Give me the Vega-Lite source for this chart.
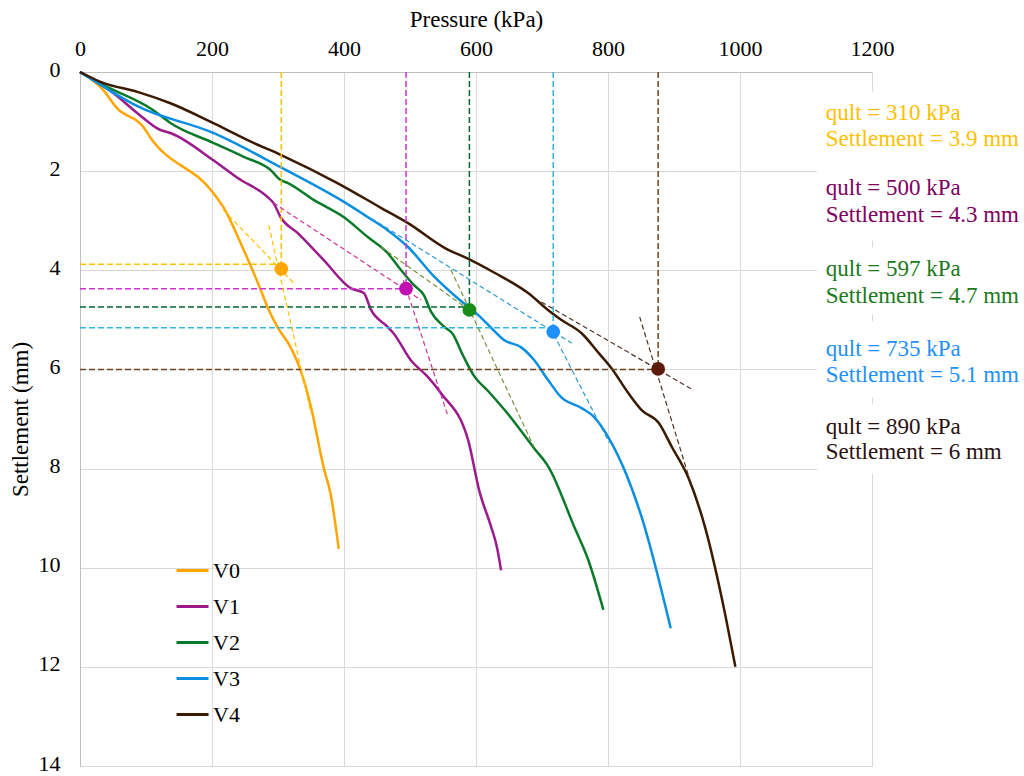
{
  "$schema": "https://vega.github.io/schema/vega-lite/v6.json",
  "autosize": "none",
  "width": 792,
  "height": 694,
  "padding": {"left": 80, "top": 72, "right": 152, "bottom": 10},
  "background": "white",
  "config": {
    "font": "Liberation Serif",
    "view": {"stroke": null},
    "axis": {
      "grid": true, "gridColor": "#D9D9D9", "gridWidth": 1,
      "domain": true, "domainColor": "#BFBFBF", "ticks": false,
      "labelFont": "Liberation Serif", "labelFontSize": 22, "labelColor": "#000000",
      "titleFont": "Liberation Serif", "titleFontSize": 23, "titleFontWeight": "normal", "titleColor": "#000000",
      "labelFlush": false
    },
    "legend": {
      "labelFont": "Liberation Serif", "labelFontSize": 22, "labelColor": "#000000",
      "symbolType": "stroke", "symbolSize": 1024, "symbolStrokeWidth": 3,
      "padding": 0, "rowPadding": 7, "labelOffset": 3
    }
  },
  "datasets": {
    "curves": [
      {"series": "V0", "p": 0, "s": 0}, {"series": "V0", "p": 35, "s": 0.36}, {"series": "V0", "p": 56, "s": 0.73}, {"series": "V0", "p": 96, "s": 1.11}, {"series": "V0", "p": 106, "s": 1.31}, {"series": "V0", "p": 202, "s": 2.44}, {"series": "V0", "p": 217, "s": 2.72}, {"series": "V0", "p": 248, "s": 3.59}, {"series": "V0", "p": 274, "s": 4.40}, {"series": "V0", "p": 284, "s": 4.74}, {"series": "V0", "p": 299, "s": 5.14}, {"series": "V0", "p": 319, "s": 5.55}, {"series": "V0", "p": 334, "s": 6.01}, {"series": "V0", "p": 350, "s": 6.76}, {"series": "V0", "p": 369, "s": 7.97}, {"series": "V0", "p": 380, "s": 8.53}, {"series": "V0", "p": 392, "s": 9.62},
      {"series": "V1", "p": 0, "s": 0}, {"series": "V1", "p": 50, "s": 0.42}, {"series": "V1", "p": 87, "s": 0.83}, {"series": "V1", "p": 122, "s": 1.17}, {"series": "V1", "p": 137, "s": 1.23}, {"series": "V1", "p": 202, "s": 1.78}, {"series": "V1", "p": 239, "s": 2.14}, {"series": "V1", "p": 284, "s": 2.52}, {"series": "V1", "p": 293, "s": 2.64}, {"series": "V1", "p": 304, "s": 2.93}, {"series": "V1", "p": 330, "s": 3.25}, {"series": "V1", "p": 369, "s": 3.79}, {"series": "V1", "p": 410, "s": 4.36}, {"series": "V1", "p": 430, "s": 4.46}, {"series": "V1", "p": 441, "s": 4.80}, {"series": "V1", "p": 466, "s": 5.14}, {"series": "V1", "p": 475, "s": 5.27}, {"series": "V1", "p": 501, "s": 5.81}, {"series": "V1", "p": 527, "s": 6.15}, {"series": "V1", "p": 547, "s": 6.48}, {"series": "V1", "p": 588, "s": 7.42}, {"series": "V1", "p": 605, "s": 8.45}, {"series": "V1", "p": 623, "s": 9.18}, {"series": "V1", "p": 632, "s": 9.6}, {"series": "V1", "p": 638, "s": 10.05},
      {"series": "V2", "p": 0, "s": 0}, {"series": "V2", "p": 35, "s": 0.26}, {"series": "V2", "p": 111, "s": 0.77}, {"series": "V2", "p": 137, "s": 1.03}, {"series": "V2", "p": 202, "s": 1.43}, {"series": "V2", "p": 248, "s": 1.71}, {"series": "V2", "p": 289, "s": 1.98}, {"series": "V2", "p": 304, "s": 2.18}, {"series": "V2", "p": 315, "s": 2.24}, {"series": "V2", "p": 354, "s": 2.58}, {"series": "V2", "p": 400, "s": 2.93}, {"series": "V2", "p": 436, "s": 3.33}, {"series": "V2", "p": 466, "s": 3.65}, {"series": "V2", "p": 486, "s": 3.99}, {"series": "V2", "p": 506, "s": 4.30}, {"series": "V2", "p": 521, "s": 4.50}, {"series": "V2", "p": 532, "s": 4.84}, {"series": "V2", "p": 552, "s": 5.14}, {"series": "V2", "p": 565, "s": 5.29}, {"series": "V2", "p": 580, "s": 5.71}, {"series": "V2", "p": 596, "s": 6.11}, {"series": "V2", "p": 620, "s": 6.46}, {"series": "V2", "p": 646, "s": 6.86}, {"series": "V2", "p": 688, "s": 7.59}, {"series": "V2", "p": 710, "s": 7.97}, {"series": "V2", "p": 749, "s": 9.18}, {"series": "V2", "p": 770, "s": 9.84}, {"series": "V2", "p": 793, "s": 10.85},
      {"series": "V3", "p": 0, "s": 0}, {"series": "V3", "p": 35, "s": 0.29}, {"series": "V3", "p": 87, "s": 0.69}, {"series": "V3", "p": 202, "s": 1.23}, {"series": "V3", "p": 304, "s": 1.92}, {"series": "V3", "p": 395, "s": 2.58}, {"series": "V3", "p": 441, "s": 2.97}, {"series": "V3", "p": 466, "s": 3.19}, {"series": "V3", "p": 497, "s": 3.53}, {"series": "V3", "p": 536, "s": 4.12}, {"series": "V3", "p": 570, "s": 4.54}, {"series": "V3", "p": 603, "s": 4.90}, {"series": "V3", "p": 623, "s": 5.16}, {"series": "V3", "p": 643, "s": 5.41}, {"series": "V3", "p": 668, "s": 5.55}, {"series": "V3", "p": 688, "s": 5.81}, {"series": "V3", "p": 709, "s": 6.21}, {"series": "V3", "p": 729, "s": 6.56}, {"series": "V3", "p": 760, "s": 6.78}, {"series": "V3", "p": 779, "s": 6.96}, {"series": "V3", "p": 801, "s": 7.38}, {"series": "V3", "p": 825, "s": 8.03}, {"series": "V3", "p": 851, "s": 8.98}, {"series": "V3", "p": 895, "s": 11.22},
      {"series": "V4", "p": 0, "s": 0}, {"series": "V4", "p": 35, "s": 0.22}, {"series": "V4", "p": 87, "s": 0.40}, {"series": "V4", "p": 137, "s": 0.63}, {"series": "V4", "p": 202, "s": 1.03}, {"series": "V4", "p": 263, "s": 1.43}, {"series": "V4", "p": 304, "s": 1.67}, {"series": "V4", "p": 390, "s": 2.24}, {"series": "V4", "p": 456, "s": 2.74}, {"series": "V4", "p": 497, "s": 3.05}, {"series": "V4", "p": 558, "s": 3.59}, {"series": "V4", "p": 582, "s": 3.73}, {"series": "V4", "p": 628, "s": 4.05}, {"series": "V4", "p": 679, "s": 4.46}, {"series": "V4", "p": 709, "s": 4.80}, {"series": "V4", "p": 729, "s": 5.00}, {"series": "V4", "p": 760, "s": 5.27}, {"series": "V4", "p": 786, "s": 5.67}, {"series": "V4", "p": 805, "s": 5.97}, {"series": "V4", "p": 831, "s": 6.48}, {"series": "V4", "p": 851, "s": 6.82}, {"series": "V4", "p": 877, "s": 7.08}, {"series": "V4", "p": 897, "s": 7.57}, {"series": "V4", "p": 922, "s": 8.19}, {"series": "V4", "p": 947, "s": 9.18}, {"series": "V4", "p": 973, "s": 10.65}, {"series": "V4", "p": 993, "s": 12.0}
    ],
    "axesGuides": [
      {"series": "V0", "p": 305, "s": 0, "p2": 305, "s2": 3.97},
      {"series": "V0", "p": 0, "s": 3.88, "p2": 305, "s2": 3.88},
      {"series": "V1", "p": 494, "s": 0, "p2": 494, "s2": 4.37},
      {"series": "V1", "p": 0, "s": 4.37, "p2": 494, "s2": 4.37},
      {"series": "V2", "p": 590, "s": 0, "p2": 590, "s2": 4.8},
      {"series": "V2", "p": 0, "s": 4.74, "p2": 590, "s2": 4.74},
      {"series": "V3", "p": 717, "s": 0, "p2": 717, "s2": 5.24},
      {"series": "V3", "p": 0, "s": 5.16, "p2": 717, "s2": 5.16},
      {"series": "V4", "p": 876, "s": 0, "p2": 876, "s2": 5.99},
      {"series": "V4", "p": 0, "s": 6.0, "p2": 876, "s2": 6.0}
    ],
    "tangents": [
      {"series": "V0", "p": 217, "s": 2.78, "p2": 324, "s2": 4.26},
      {"series": "V0", "p": 286, "s": 3.09, "p2": 350, "s2": 6.88},
      {"series": "V1", "p": 293, "s": 2.64, "p2": 517, "s2": 4.6},
      {"series": "V1", "p": 490, "s": 4.2, "p2": 558, "s2": 6.96},
      {"series": "V2", "p": 456, "s": 3.53, "p2": 600, "s2": 4.9},
      {"series": "V2", "p": 562, "s": 3.99, "p2": 688, "s2": 7.57},
      {"series": "V3", "p": 441, "s": 2.95, "p2": 745, "s2": 5.47},
      {"series": "V3", "p": 718, "s": 5.3, "p2": 802, "s2": 7.48},
      {"series": "V4", "p": 699, "s": 4.64, "p2": 930, "s2": 6.42},
      {"series": "V4", "p": 848, "s": 4.94, "p2": 924, "s2": 8.23}
    ],
    "ultimate": [
      {"series": "V0", "p": 305, "s": 3.97},
      {"series": "V1", "p": 494, "s": 4.37},
      {"series": "V2", "p": 590, "s": 4.8},
      {"series": "V3", "p": 717, "s": 5.24},
      {"series": "V4", "p": 876, "s": 5.99}
    ],
    "boxes": [
      {"p": 1117, "p2": 1300, "s": 0.40, "s2": 3.40},
      {"p": 1117, "p2": 1300, "s": 3.54, "s2": 4.89},
      {"p": 1117, "p2": 1300, "s": 5.03, "s2": 6.56},
      {"p": 1117, "p2": 1300, "s": 6.70, "s2": 8.11}
    ],
    "notes": [
      {"series": "V0", "p": 1130, "s": 0.825, "text": "qult = 310 kPa"},
      {"series": "V0", "p": 1130, "s": 1.35, "text": "Settlement = 3.9 mm"},
      {"series": "V1", "p": 1130, "s": 2.33, "text": "qult = 500 kPa"},
      {"series": "V1", "p": 1130, "s": 2.88, "text": "Settlement = 4.3 mm"},
      {"series": "V2", "p": 1130, "s": 3.98, "text": "qult = 597 kPa"},
      {"series": "V2", "p": 1130, "s": 4.51, "text": "Settlement = 4.7 mm"},
      {"series": "V3", "p": 1130, "s": 5.59, "text": "qult = 735 kPa"},
      {"series": "V3", "p": 1130, "s": 6.12, "text": "Settlement = 5.1 mm"},
      {"series": "V4", "p": 1130, "s": 7.16, "text": "qult = 890 kPa"},
      {"series": "V4", "p": 1130, "s": 7.66, "text": "Settlement = 6 mm"}
    ]
  },
  "encoding": {
    "x": {"field": "p", "type": "quantitative",
      "scale": {"domain": [0, 1200], "nice": false, "zero": false},
      "axis": {"orient": "top", "values": [0, 200, 400, 600, 800, 1000, 1200], "format": "d", "title": "Pressure (kPa)", "labelFont": "Liberation Serif", "titleFont": "Liberation Serif", "labelPadding": 12, "titlePadding": 6}},
    "y": {"field": "s", "type": "quantitative",
      "scale": {"domain": [0, 14], "reverse": true, "nice": false, "zero": false},
      "axis": {"values": [0, 2, 4, 6, 8, 10, 12, 14], "format": "d", "title": "Settlement (mm)", "labelFont": "Liberation Serif", "titleFont": "Liberation Serif", "labelPadding": 20, "titlePadding": 6, "labelOffset": -3}}
  },
  "layer": [
    {
      "data": {"name": "boxes"},
      "mark": {"type": "rect", "fill": "white", "stroke": null, "clip": false},
      "encoding": {
        "x2": {"field": "p2"},
        "y2": {"field": "s2"}
      }
    },
    {
      "data": {"name": "curves"},
      "mark": {"type": "line", "strokeWidth": 2.5, "interpolate": "monotone"},
      "encoding": {
        "color": {"field": "series", "type": "nominal",
          "scale": {"domain": ["V0", "V1", "V2", "V3", "V4"], "range": ["#FFA500", "#9C1A8C", "#0A7A2A", "#0A8FE0", "#3B1A00"]},
          "legend": {"title": null, "orient": "none", "legendX": 95, "legendY": 481, "direction": "vertical"}},
        "order": {"field": "p", "type": "quantitative"}
      }
    },
    {
      "data": {"name": "axesGuides"},
      "mark": {"type": "rule", "strokeWidth": 1.5, "strokeDash": [6, 3]},
      "encoding": {
        "x2": {"field": "p2"},
        "y2": {"field": "s2"},
        "stroke": {"field": "series", "type": "nominal",
          "scale": {"domain": ["V0", "V1", "V2", "V3", "V4"], "range": ["#FFC000", "#CC33CC", "#006633", "#33B5E5", "#6B4420"]},
          "legend": null}
      }
    },
    {
      "data": {"name": "tangents"},
      "mark": {"type": "rule", "strokeWidth": 1.2, "strokeDash": [5, 3]},
      "encoding": {
        "x2": {"field": "p2"},
        "y2": {"field": "s2"},
        "stroke": {"field": "series", "type": "nominal",
          "scale": {"domain": ["V0", "V1", "V2", "V3", "V4"], "range": ["#FFC000", "#CC3399", "#77933C", "#2E9AD0", "#4D3326"]},
          "legend": null}
      }
    },
    {
      "data": {"name": "ultimate"},
      "mark": {"type": "point", "shape": "circle", "filled": true, "size": 190, "opacity": 1, "strokeWidth": 0},
      "encoding": {
        "fill": {"field": "series", "type": "nominal",
          "scale": {"domain": ["V0", "V1", "V2", "V3", "V4"], "range": ["#FFA500", "#C010B0", "#1A8C1A", "#1E90FF", "#5C1A0A"]},
          "legend": null}
      }
    },
    {
      "data": {"name": "notes"},
      "mark": {"type": "text", "align": "left", "baseline": "middle", "font": "Liberation Serif", "fontSize": 23},
      "encoding": {
        "text": {"field": "text"},
        "fill": {"field": "series", "type": "nominal",
          "scale": {"domain": ["V0", "V1", "V2", "V3", "V4"], "range": ["#FFC000", "#800060", "#1B7A1B", "#1E90FF", "#2B1111"]},
          "legend": null}
      }
    }
  ],
  "resolve": {"scale": {"fill": "independent", "stroke": "independent"}}
}
